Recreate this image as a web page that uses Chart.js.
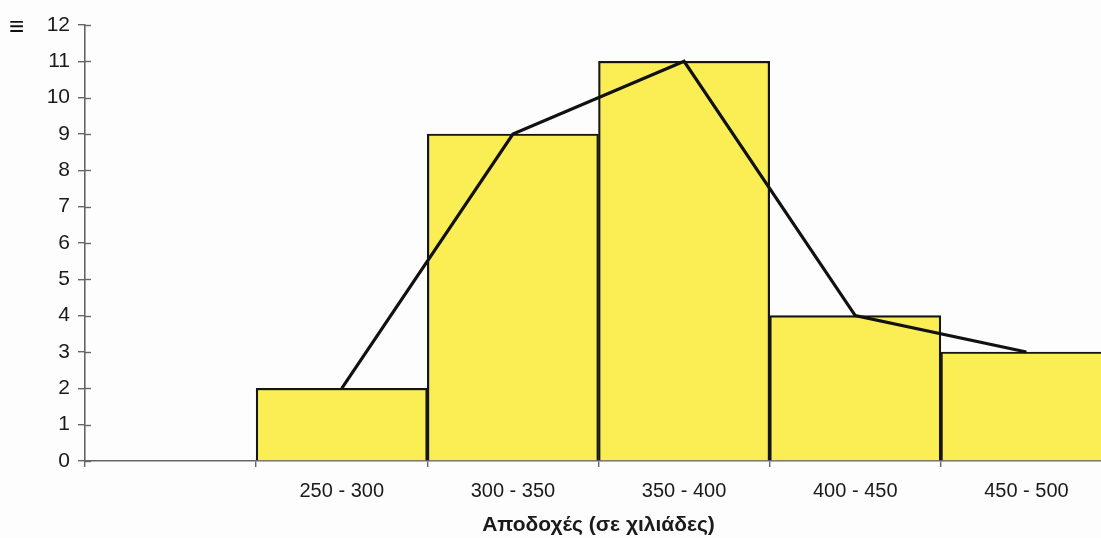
<!DOCTYPE html>
<html>
<head>
<meta charset="utf-8">
<script src="https://cdn.jsdelivr.net/npm/chart.js@4/dist/chart.umd.min.js"></script>
<style>
  html, body { margin: 0; padding: 0; background: #fdfdfd; overflow: hidden; }
  #wrap { position: relative; width: 1112px; height: 538px; }
</style>
</head>
<body>
<div id="wrap"><canvas id="chart" width="1112" height="538"></canvas></div>
<script>
// Salary classes (in thousands) and how many employees fall in each
const categories = ['', '250 - 300', '300 - 350', '350 - 400', '400 - 450', '450 - 500'];
const frequencies = [null, 2, 9, 11, 4, 3];
const polygonValues = [null, 2, 9, 11, 4, 3];
const yTicks = [0, 1, 2, 3, 4, 5, 6, 7, 8, 9, 10, 11, 12];
const xTitle = 'Αποδοχές (σε χιλιάδες)';
const cornerMark = '≡';

const FONT = "'Liberation Sans', Arial, sans-serif";
const TEXT = '#1a1a1a';

// Small crossing tick marks on the y axis plus the little mark in the corner
const extras = {
  id: 'extras',
  afterDraw(chart) {
    const ctx = chart.ctx;
    const y = chart.scales.y;
    const x0 = y.right;
    ctx.save();
    ctx.strokeStyle = '#666';
    ctx.lineWidth = 1.4;
    yTicks.forEach(v => {
      const py = Math.round(y.getPixelForValue(v)) + 0.5;
      ctx.beginPath();
      ctx.moveTo(x0 - 1, py);
      ctx.lineTo(x0 + 6, py);
      ctx.stroke();
    });
    ctx.fillStyle = '#111';
    ctx.font = 'bold 26px ' + FONT;
    ctx.textBaseline = 'middle';
    ctx.textAlign = 'left';
    ctx.fillText(cornerMark, 9, 28);
    ctx.restore();
  }
};

new Chart(document.getElementById('chart'), {
  data: {
    labels: categories,
    datasets: [
      {
        type: 'line',
        data: polygonValues,
        borderColor: '#111111',
        borderWidth: 3.2,
        pointRadius: 0,
        tension: 0,
        fill: false,
        order: 0
      },
      {
        type: 'bar',
        data: frequencies,
        backgroundColor: '#fbee55',
        borderColor: '#151515',
        borderWidth: 2.2,
        barPercentage: 1,
        categoryPercentage: 1,
        order: 1
      }
    ]
  },
  options: {
    responsive: false,
    animation: false,
    layout: { padding: { top: 25, right: 0, left: 0, bottom: 0 } },
    plugins: {
      legend: { display: false },
      tooltip: { enabled: false }
    },
    scales: {
      x: {
        offset: true,
        grid: {
          offset: true,
          drawOnChartArea: false,
          drawTicks: true,
          tickLength: 6,
          color: '#666',
          lineWidth: 1.4
        },
        border: { color: '#666', width: 1.6 },
        ticks: {
          color: TEXT,
          padding: 12,
          maxRotation: 0,
          autoSkip: false,
          font: { family: FONT, size: 20 }
        },
        title: {
          display: true,
          text: xTitle,
          color: TEXT,
          padding: { top: 3, bottom: 0 },
          font: { family: FONT, size: 21, weight: 'bold' }
        },
        afterFit(scale) { scale.height = 77; }
      },
      y: {
        min: 0,
        max: 12,
        afterBuildTicks(scale) { scale.ticks = yTicks.map(v => ({ value: v })); },
        grid: {
          drawOnChartArea: false,
          drawTicks: true,
          tickLength: 7,
          color: '#666',
          lineWidth: 1.4
        },
        border: { color: '#666', width: 1.6 },
        ticks: {
          color: TEXT,
          padding: 8,
          font: { family: FONT, size: 21 }
        },
        afterFit(scale) { scale.width = 85; }
      }
    }
  },
  plugins: [extras]
});
</script>
</body>
</html>
